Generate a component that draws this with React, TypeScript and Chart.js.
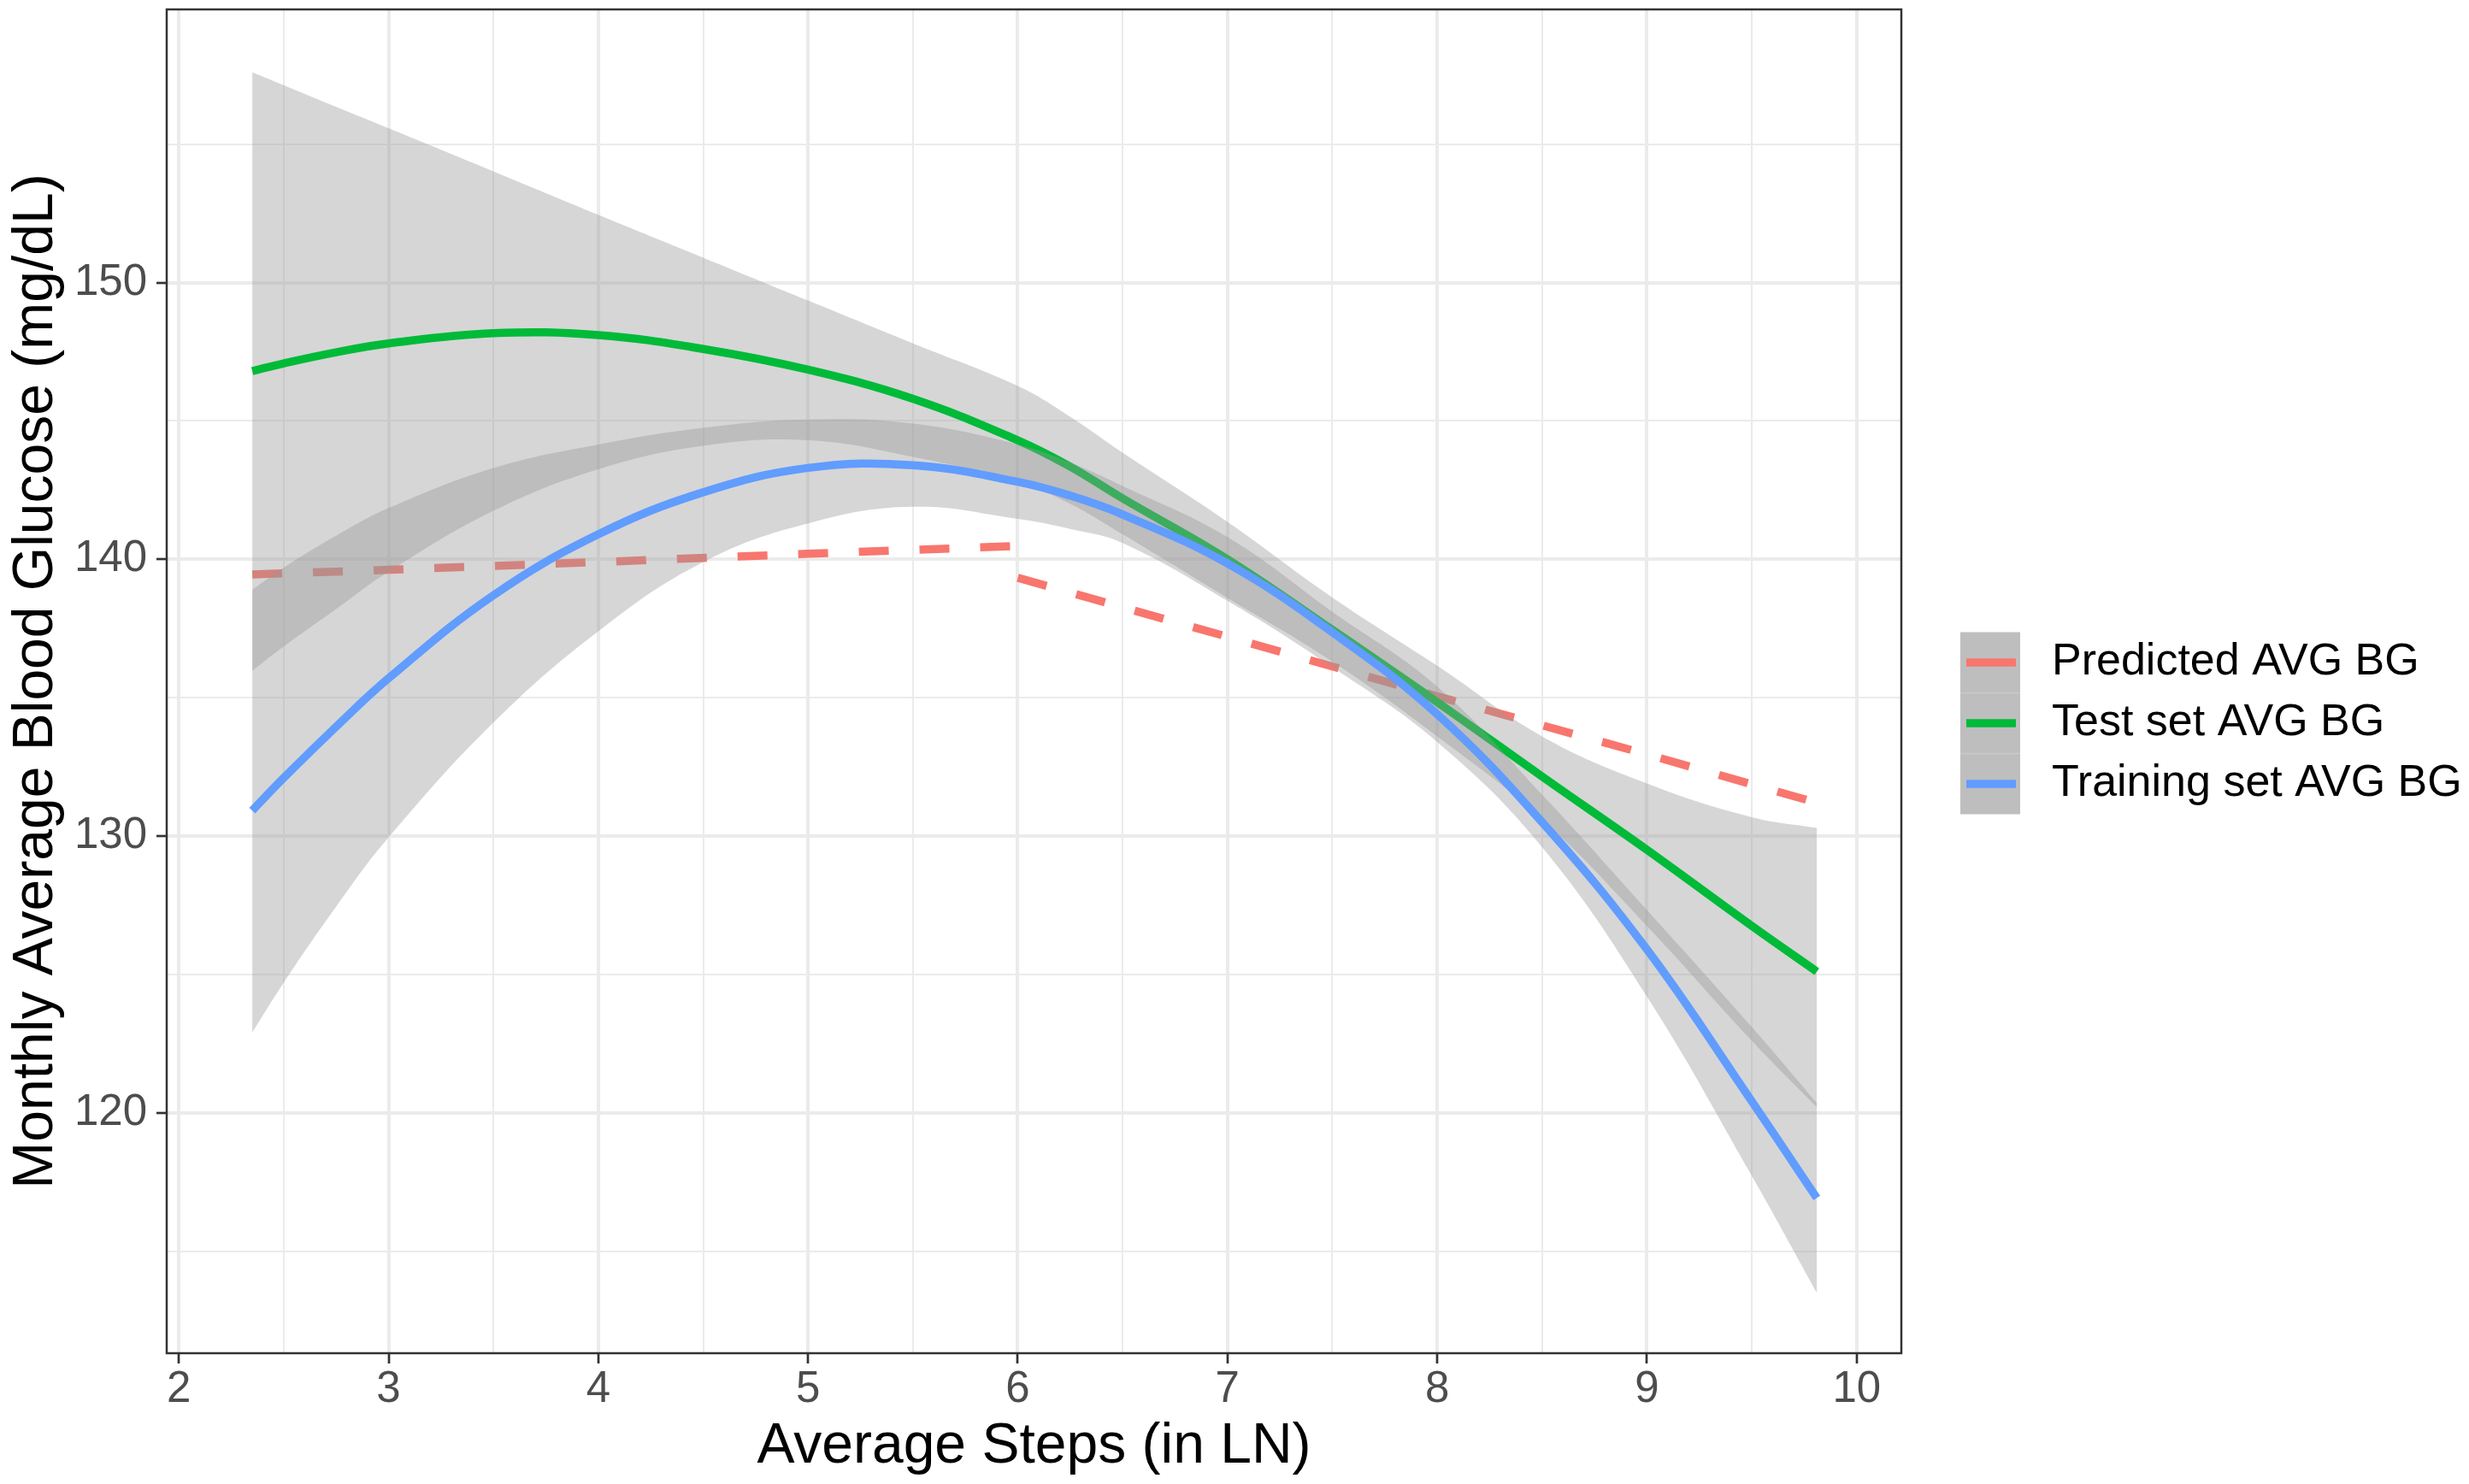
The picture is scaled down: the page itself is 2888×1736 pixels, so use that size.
import { useEffect, useRef } from "react"
import { Chart, registerables } from "chart.js"

Chart.register(...registerables)

const stepX = [2.35, 2.5, 2.75, 3.0, 3.5, 4.0, 4.5, 5.0, 5.5, 6.0, 6.25, 6.5, 7.0, 7.5, 8.0, 8.5, 9.0, 9.5, 9.81]

// Test set smooth + its confidence band
const testAvg = [146.8, 147.08, 147.48, 147.8, 148.17, 148.1, 147.6, 146.85, 145.8, 144.3, 143.35, 142.2, 140.0, 137.45, 134.84, 132.15, 129.5, 126.75, 125.1]
const testUpper = [157.6, 157.13, 156.35, 155.58, 154.02, 152.45, 150.9, 149.35, 147.8, 146.26, 145.15, 143.85, 141.35, 138.62, 136.15, 133.6, 131.9, 130.68, 130.29]
const testLower = [135.97, 136.85, 138.2, 139.55, 141.75, 143.25, 144.1, 144.3, 143.7, 142.8, 142.0, 140.9, 138.6, 136.3, 133.6, 130.6, 126.75, 122.6, 120.2]

// Training set smooth + its confidence band
const trainAvg = [130.92, 132.1, 133.95, 135.7, 138.7, 140.9, 142.42, 143.3, 143.4, 142.8, 142.3, 141.62, 139.85, 137.36, 134.4, 130.5, 125.9, 120.41, 116.92]
const trainUpper = [138.9, 139.7, 140.85, 141.85, 143.3, 144.15, 144.75, 145.05, 144.9, 144.15, 143.5, 142.65, 140.8, 138.1, 135.4, 131.5, 127.33, 123.1, 120.35]
const trainLower = [122.9, 124.7, 127.45, 129.95, 134.1, 137.4, 139.9, 141.3, 141.9, 141.46, 141.1, 140.59, 138.5, 136.1, 133.4, 129.6, 124.2, 117.72, 113.49]

// Predicted line (two pieces, null = break)
const predX = [2.35, 3.0, 4.0, 5.0, 6.0, 6.0, 6.0, 7.0, 8.0, 9.0, 9.81]
const predY = [139.45, 139.62, 139.9, 140.2, 140.48, null, 139.33, 137.2, 135.05, 132.95, 131.2]

const xTicks = [2, 2.5, 3, 3.5, 4, 4.5, 5, 5.5, 6, 6.5, 7, 7.5, 8, 8.5, 9, 9.5, 10]
const yTicks = [115, 120, 125, 130, 135, 140, 145, 150, 155]

const legendLabels = ["Predicted AVG BG", "Test set AVG BG", "Training set AVG BG"]
const legendColors = ["#F8766D", "#00BA38", "#619CFF"]

const FONT = "'Liberation Sans', Arial, sans-serif"
const RIBBON = "rgba(153,153,153,0.4)"

const pts = (ys: (number | null)[], xs: number[] = stepX) => xs.map((x, i) => ({ x, y: ys[i] }))

const isMajorX = (v: number) => Number.isInteger(v)
const isMajorY = (v: number) => v % 10 === 0

const ggPlugin = {
  id: "ggDecor",
  afterDraw(chart: any) {
    const { ctx, chartArea } = chart
    ctx.save()
    // panel border
    ctx.strokeStyle = "#333333"
    ctx.lineWidth = 2.5
    ctx.strokeRect(chartArea.left, chartArea.top, chartArea.right - chartArea.left, chartArea.bottom - chartArea.top)

    // legend
    const keyX = 2293
    const keyW = 70
    const rowH = 71
    const top = 739.5
    legendLabels.forEach((label, i) => {
      const y0 = top + i * rowH
      ctx.fillStyle = "rgb(190,190,190)"
      ctx.fillRect(keyX, y0, keyW, rowH)
      if (i > 0) {
        ctx.fillStyle = "#CACACA"
        ctx.fillRect(keyX, y0 - 0.75, keyW, 1.5)
      }
      ctx.strokeStyle = legendColors[i]
      ctx.lineWidth = 9.5
      ctx.lineCap = "butt"
      ctx.beginPath()
      ctx.moveTo(keyX + 7, y0 + rowH / 2)
      ctx.lineTo(keyX + 65, y0 + rowH / 2)
      ctx.stroke()
      ctx.fillStyle = "#000000"
      ctx.font = `52px ${FONT}`
      ctx.textAlign = "left"
      ctx.textBaseline = "middle"
      ctx.fillText(label, 2400, y0 + rowH / 2)
    })
    ctx.restore()
  },
}

export default function App() {
  const canvasRef = useRef<HTMLCanvasElement>(null)
  const chartRef = useRef<Chart | null>(null)

  useEffect(() => {
    document.body.style.margin = "0"
    if (!canvasRef.current) return
    if (chartRef.current) chartRef.current.destroy()
    const ctx = canvasRef.current.getContext("2d")
    if (!ctx) return

    const curve = { pointRadius: 0, tension: 0.4, fill: false }

    const config: any = {
      type: "line",
      data: {
        datasets: [
          {
            label: "Predicted AVG BG",
            data: pts(predY, predX),
            borderColor: "#F8766D",
            borderWidth: 9.5,
            borderDash: [35, 36],
            pointRadius: 0,
            tension: 0,
            fill: false,
            order: 10,
          },
          { label: "test lower", data: pts(testLower), borderWidth: 0, order: 9, ...curve },
          {
            label: "test upper",
            data: pts(testUpper),
            borderWidth: 0,
            order: 8,
            ...curve,
            fill: "-1",
            backgroundColor: RIBBON,
          },
          { label: "Test set AVG BG", data: pts(testAvg), borderColor: "#00BA38", borderWidth: 9.5, order: 7, ...curve },
          { label: "train lower", data: pts(trainLower), borderWidth: 0, order: 6, ...curve },
          {
            label: "train upper",
            data: pts(trainUpper),
            borderWidth: 0,
            order: 5,
            ...curve,
            fill: "-1",
            backgroundColor: RIBBON,
          },
          { label: "Training set AVG BG", data: pts(trainAvg), borderColor: "#619CFF", borderWidth: 9.5, order: 4, ...curve },
        ],
      },
      options: {
        animation: false,
        responsive: true,
        maintainAspectRatio: false,
        events: [],
        layout: { padding: { top: 11, right: 664, bottom: 0, left: 0 } },
        plugins: {
          legend: { display: false },
          tooltip: { enabled: false },
        },
        scales: {
          x: {
            type: "linear",
            min: 1.942,
            max: 10.213,
            afterBuildTicks: (scale: any) => {
              scale.ticks = xTicks.map((v) => ({ value: v }))
            },
            afterFit: (scale: any) => {
              scale.height = 153
              scale.paddingLeft = 0
              scale.paddingRight = 0
            },
            border: { display: false },
            grid: {
              color: "#EBEBEB",
              lineWidth: (c: any) => (c.tick && isMajorX(c.tick.value) ? 4 : 2),
              tickColor: (c: any) => (c.tick && isMajorX(c.tick.value) ? "#333333" : "rgba(0,0,0,0)"),
              tickWidth: 2.7,
              tickLength: 12,
            },
            ticks: {
              autoSkip: false,
              maxRotation: 0,
              minRotation: 0,
              padding: 5.5,
              color: "#4D4D4D",
              font: { family: FONT, size: 51, lineHeight: 1 },
              callback: (v: any) => (isMajorX(Number(v)) ? String(v) : ""),
            },
            title: {
              display: true,
              text: "Average Steps (in LN)",
              color: "#000000",
              font: { family: FONT, size: 66, lineHeight: 1.2 },
              padding: { top: 0, bottom: 4 },
            },
          },
          y: {
            type: "linear",
            min: 111.31,
            max: 159.87,
            afterBuildTicks: (scale: any) => {
              scale.ticks = yTicks.map((v) => ({ value: v }))
            },
            afterFit: (scale: any) => {
              scale.width = 195
              scale.paddingTop = 0
              scale.paddingBottom = 0
            },
            border: { display: false },
            grid: {
              color: "#EBEBEB",
              lineWidth: (c: any) => (c.tick && isMajorY(c.tick.value) ? 4 : 2),
              tickColor: (c: any) => (c.tick && isMajorY(c.tick.value) ? "#333333" : "rgba(0,0,0,0)"),
              tickWidth: 2.7,
              tickLength: 12,
            },
            ticks: {
              autoSkip: false,
              padding: 11,
              color: "#4D4D4D",
              font: { family: FONT, size: 51, lineHeight: 1 },
              callback: (v: any) => (isMajorY(Number(v)) ? String(v) : ""),
            },
            title: {
              display: true,
              text: "Monthly Average Blood Glucose (mg/dL)",
              color: "#000000",
              font: { family: FONT, size: 66, lineHeight: 1.2 },
              padding: { top: 3.4, bottom: 0 },
            },
          },
        },
      },
      plugins: [ggPlugin],
    }

    chartRef.current = new Chart(ctx, config)

    return () => {
      if (chartRef.current) {
        chartRef.current.destroy()
        chartRef.current = null
      }
    }
  }, [])

  return (
    <div style={{ position: "relative", width: "2888px", height: "1736px", background: "#ffffff" }}>
      <canvas ref={canvasRef} />
    </div>
  )
}
